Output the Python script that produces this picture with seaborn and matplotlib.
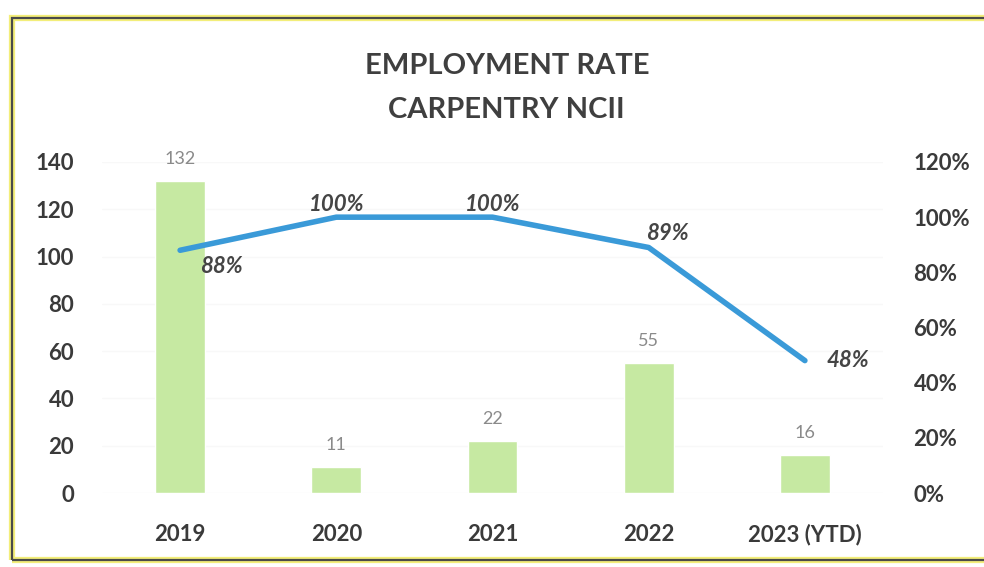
import matplotlib
matplotlib.use("Agg")
import matplotlib.pyplot as plt
from matplotlib.patches import Rectangle
import seaborn as sns
import pandas as pd

years = ["2019", "2020", "2021", "2022", "2023 (YTD)"]
graduates = [132, 11, 22, 55, 16]
employment_rate = [0.88, 1.00, 1.00, 0.89, 0.48]
rate_labels = ["88%", "100%", "100%", "89%", "48%"]
left_ticks = [0, 20, 40, 60, 80, 100, 120, 140]
right_ticks = [0.0, 0.2, 0.4, 0.6, 0.8, 1.0, 1.2]

sns.set_theme(style="white")
plt.rcParams["font.family"] = ["Lato", "DejaVu Sans"]

df = pd.DataFrame({"year": years, "graduates": graduates, "rate": employment_rate})

fig = plt.figure(figsize=(9.84, 5.67), dpi=100)
fig.patch.set_facecolor("white")

# chart frame
frame_glow = Rectangle((12 / 984, 1 - 560 / 567), 1.2, (560 - 18) / 567,
                       transform=fig.transFigure, fill=False,
                       edgecolor="#f3ee7a", linewidth=4.5, zorder=0)
frame = Rectangle((12 / 984, 1 - 560 / 567), 1.2, (560 - 18) / 567,
                  transform=fig.transFigure, fill=False,
                  edgecolor="#4a4a4a", linewidth=1.6, zorder=1)
fig.add_artist(frame_glow)
fig.add_artist(frame)

ax = fig.add_axes([102 / 984, 1 - 493 / 567, 781 / 984, 331 / 567])
sns.barplot(data=df, x="year", y="graduates", ax=ax, color="#c6e9a2",
            saturation=1, width=0.32, zorder=2)
ax.set_ylim(0, 140)
ax.set_xlim(-0.5, len(years) - 0.5)
ax.set_yticks(left_ticks)
ax.set_yticklabels([str(t) for t in left_ticks], fontsize=16,
                   fontweight="bold", color="#3a3a3a")
ax.set_xticklabels(years, fontsize=16, fontweight="bold", color="#3a3a3a")
ax.tick_params(axis="x", pad=22, length=0)
ax.tick_params(axis="y", pad=20, length=0)
ax.set_xlabel("")
ax.set_ylabel("")
ax.grid(axis="y", color="#f8f8f8", linewidth=1, zorder=0)
for s in ax.spines.values():
    s.set_visible(False)

for i, v in enumerate(graduates):
    ax.text(i, v + 6, str(v), ha="center", va="bottom", fontsize=13,
            color="#8a8a8a")

ax2 = ax.twinx()
sns.lineplot(x=list(range(len(years))), y=employment_rate, ax=ax2,
             color="#3a9ad8", linewidth=4, zorder=3)
ax2.set_ylim(0, 1.2)
ax2.set_yticks(right_ticks)
ax2.set_yticklabels([f"{int(round(t * 100))}%" for t in right_ticks],
                    fontsize=16, fontweight="bold", color="#3a3a3a")
ax2.tick_params(axis="y", pad=22, length=0)
ax2.set_ylabel("")
for s in ax2.spines.values():
    s.set_visible(False)

offsets = [(0.13, -0.06, "left"), (0.0, 0.045, "center"), (0.0, 0.045, "center"),
           (0.12, 0.05, "center"), (0.14, 0.0, "left")]
for i, (r, lab) in enumerate(zip(employment_rate, rate_labels)):
    dx, dy, ha = offsets[i]
    ax2.text(i + dx, r + dy, lab, ha=ha, va="center", fontsize=16,
             fontweight="bold", fontstyle="italic", color="#454545")

fig.text(0.515, 1 - 66 / 567, "EMPLOYMENT RATE", ha="center", va="center",
         fontsize=21, fontweight="bold", color="#3f3f3f")
fig.text(0.515, 1 - 110 / 567, "CARPENTRY NCII", ha="center", va="center",
         fontsize=21, fontweight="bold", color="#3f3f3f")

fig.savefig("out.png", dpi=100, facecolor="white")
